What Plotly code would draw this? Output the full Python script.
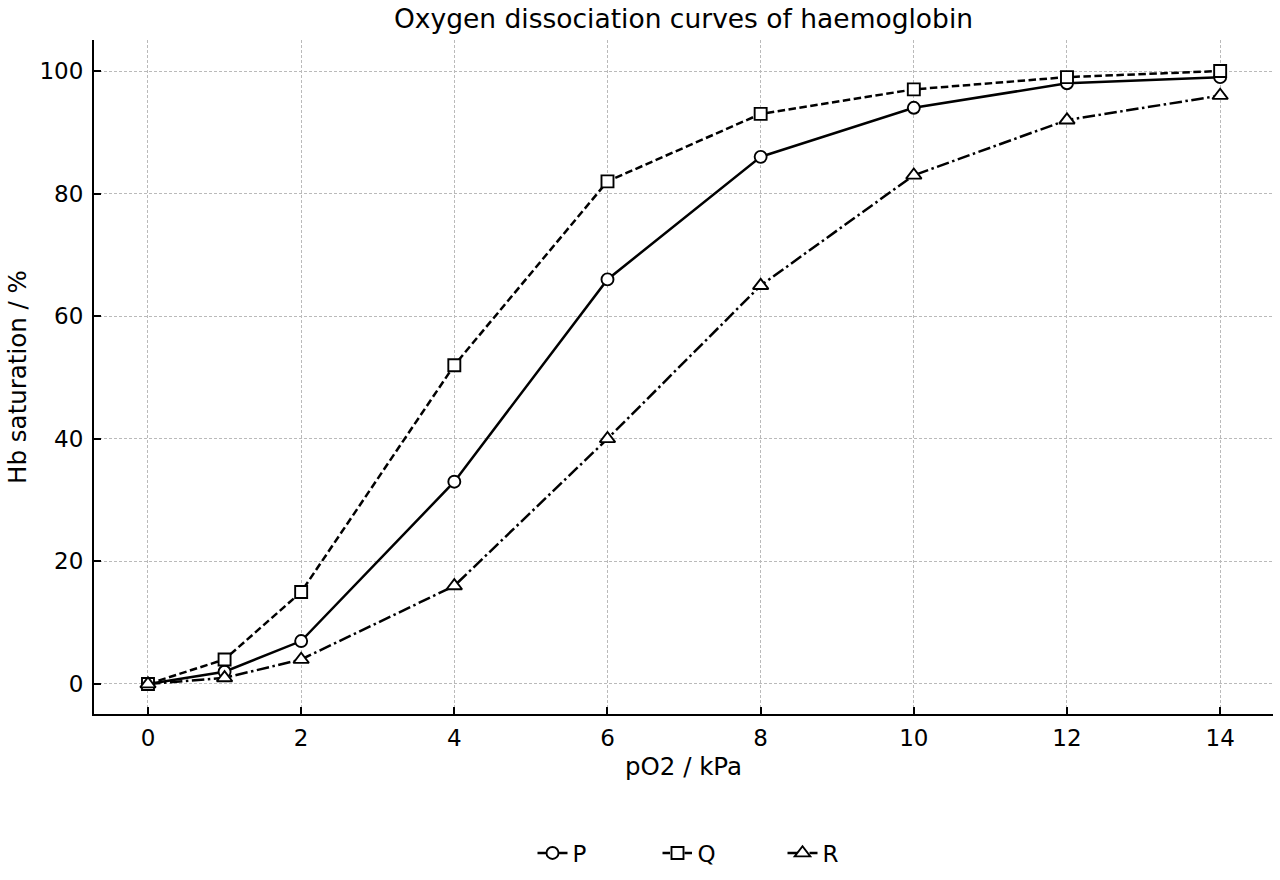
import plotly.graph_objects as go

po2 = [0, 1, 2, 4, 6, 8, 10, 12, 14]
sat_p = [0, 2, 7, 33, 66, 86, 94, 98, 99]
sat_q = [0, 4, 15, 52, 82, 93, 97, 99, 100]
sat_r = [0, 1, 4, 16, 40, 65, 83, 92, 96]
x_ticks = [0, 2, 4, 6, 8, 10, 12, 14]
y_ticks = [0, 20, 40, 60, 80, 100]

FONT = "DejaVu Sans"
fig = go.Figure()

def add(name, y, dash, symbol, size):
    fig.add_trace(go.Scatter(
        x=po2, y=y, name=name, mode="lines+markers",
        line=dict(color="black", width=2.5, dash=dash),
        marker=dict(symbol=symbol, size=size, color="white",
                    line=dict(color="black", width=1.9)),
    ))

add("P", sat_p, "solid", "circle", 12)
add("Q", sat_q, "7.5px,3.5px", "square", 12)
add("R", sat_r, "12.5px,3.5px,2.5px,3.5px", "triangle-up", 13.5)

fig.update_layout(
    width=1280, height=880,
    margin=dict(l=94, r=7, t=40, b=166, autoexpand=False),
    paper_bgcolor="white", plot_bgcolor="white",
    font=dict(family=FONT, color="black", size=22),
    title=dict(text="Oxygen dissociation curves of haemoglobin",
               x=0.5, xanchor="center", xref="paper",
               y=1 - 19 / 880, yanchor="middle", yref="container",
               font=dict(size=26.5, family=FONT)),
    legend=dict(orientation="h", x=0.5625, xanchor="center", xref="container",
                y=(880 - 853) / 880, yanchor="middle", yref="container",
                font=dict(size=23), entrywidth=80, traceorder="normal"),
    xaxis=dict(range=[-0.705, 14.69], tickvals=x_ticks, showline=True,
               linecolor="black", linewidth=2, ticks="inside", ticklen=7,
               tickwidth=1.8, tickcolor="black", showgrid=True,
               gridcolor="#bababa", griddash="3px,2px", gridwidth=1,
               zeroline=False, mirror=False, automargin=False,
               tickfont=dict(size=23), ticklabelstandoff=2,
               title=dict(text="pO2 / kPa", font=dict(size=24.5), standoff=8)),
    yaxis=dict(range=[-4.9, 105.06], tickvals=y_ticks, showline=True,
               linecolor="black", linewidth=2, ticks="inside", ticklen=7,
               tickwidth=1.8, tickcolor="black", showgrid=True,
               gridcolor="#bababa", griddash="3px,2px", gridwidth=1,
               zeroline=False, mirror=False, automargin=False,
               tickfont=dict(size=23), ticklabelstandoff=4,
               title=dict(text="Hb saturation / %", font=dict(size=24.5), standoff=6)),
)

fig.write_html("out.html")
